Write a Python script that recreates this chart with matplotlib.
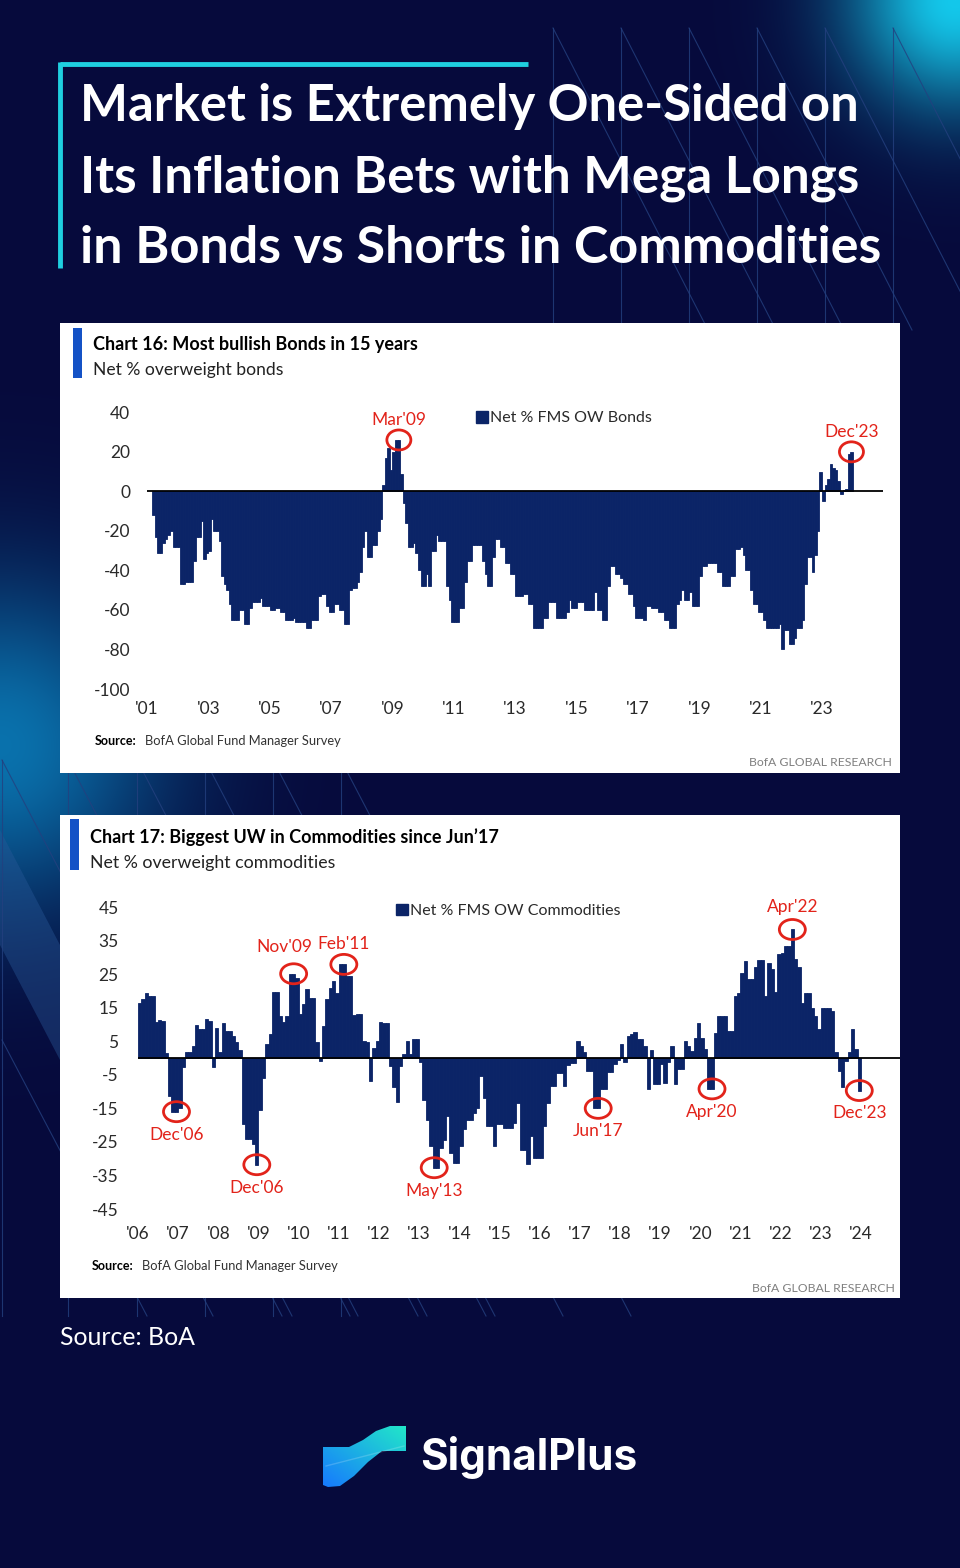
import numpy as np
import pandas as pd
import matplotlib
matplotlib.use("Agg")
import matplotlib.pyplot as plt
from matplotlib.patches import Rectangle, Ellipse, Polygon, Patch

W, H = 960, 1568
NAVY = "#0b2467"
RED = "#e2231a"
CYAN = "#1fcfe0"
CHART_FONT = "Lato"
plt.rcParams["axes.unicode_minus"] = False

# Chart 16: net % FMS overweight bonds, monthly from Mar 2001 to Dec 2023
bond_first = "2001-03"
bond_values = [
    -12, -23, -31, -31, -26, -24, -22, -20, -28, -28,               # 2001 (Mar-Dec)
    -28, -47, -47, -46, -46, -46, -35, -23, -23, -15, -34, -31,     # 2002
    -30, -14, -20, -20, -25, -43, -47, -50, -57, -65, -65, -65,     # 2003
    -60, -60, -67, -67, -59, -56, -56, -56, -54, -58, -58, -58,     # 2004
    -60, -60, -59, -59, -61, -61, -65, -65, -65, -64, -66, -66,     # 2005
    -66, -66, -69, -69, -65, -65, -65, -53, -52, -52, -58, -61,     # 2006
    -61, -57, -57, -60, -60, -67, -67, -50, -49, -49, -46, -41,     # 2007
    -28, -20, -33, -33, -27, -27, -20, -14, 3, 17, 22, 11,          # 2008
    20, 26, 26, 9, -6, -16, -28, -28, -26, -31, -40, -48,           # 2009
    -48, -42, -48, -30, -30, -22, -25, -25, -25, -48, -55, -66,     # 2010
    -66, -66, -59, -59, -46, -35, -35, -27, -27, -27, -27, -35,     # 2011
    -42, -48, -48, -33, -24, -24, -28, -28, -36, -36, -42, -42,     # 2012
    -53, -53, -53, -52, -52, -57, -57, -69, -69, -69, -69, -64,     # 2013
    -64, -56, -56, -56, -64, -64, -64, -64, -61, -55, -59, -59,     # 2014
    -56, -56, -56, -60, -60, -60, -60, -51, -60, -60, -65, -65,     # 2015
    -48, -38, -38, -42, -42, -44, -47, -47, -52, -52, -58, -64,     # 2016
    -64, -64, -65, -58, -58, -59, -59, -59, -61, -61, -65, -65,     # 2017
    -69, -69, -69, -57, -55, -50, -55, -55, -51, -58, -58, -58,     # 2018
    -43, -38, -38, -36, -36, -36, -36, -41, -41, -48, -48, -48,     # 2019
    -43, -43, -29, -29, -28, -32, -40, -40, -50, -57, -57, -61,     # 2020
    -61, -65, -69, -69, -69, -69, -69, -67, -80, -70, -70, -77,     # 2021
    -77, -74, -69, -69, -65, -47, -33, -33, -41, -32, -20, 10,      # 2022
    -5, 3, 6, 14, 12, 11, 5, -1.5, 0.5, 1, 19, 20,                  # 2023
]
bond_year_labels = ["'01", "'03", "'05", "'07", "'09", "'11", "'13",
                    "'15", "'17", "'19", "'21", "'23"]
bond_notes = [("Mar'09", "2009-03"), ("Dec'23", "2023-12")]

# Chart 17: net % FMS overweight commodities, monthly from Jan 2006 to Dec 2023
commodity_first = "2006-01"
commodity_values = [
    16.5, 17.5, 19.3, 18.5, 18.5, 10.6, 11.4, 11, 1.5, -11.2, -16, -16,       # 2006
    -15, -2.8, 1.7, 1.7, 3.7, 9.9, 8.6, 8.6, 11.6, 11.1, -2.8, 8.8,           # 2007
    1.7, 10.4, 8.1, 7.9, 6.6, 4.7, 2.5, -19.6, -24, -24, -25.5, -31.8,        # 2008
    -15.6, -6, 4.2, 7.1, 19.7, 19.7, 12.6, 10.6, 12.6, 25.1, 25.1, 23.8,      # 2009
    13, 16, 20.5, 18, 18, 4.7, -0.8, 9.6, 17.5, 21, 22.8, 19.5,               # 2010
    27.9, 27.9, 24.5, 24.5, 12.8, 13.1, 13.1, 5.1, 4.7, -7, 2.9, 5,           # 2011
    10.8, 10.4, 10.4, -2.3, -8.7, -13.2, -2.3, 1.2, 5, 1.2, 5.6, 5.6,         # 2012
    -1.3, -12.4, -18.4, -26.3, -32.7, -32.7, -26.8, -24.3, -17.4, -28.3, -31.3, -31.3,  # 2013
    -26.3, -21.3, -18.4, -18.4, -16.4, -14.9, -5.5, -11.9, -20.3, -20.3, -26.3, -19.8,  # 2014
    -19.8, -20.8, -20.8, -20.8, -19.3, -13.4, -27.3, -27.3, -31.7, -23.3, -29.8, -29.8,  # 2015
    -29.8, -20.3, -13.4, -8.4, -8.4, -4.5, -4.5, -8.4, -2, -1.5, -1.5, 5,     # 2016
    3.7, 1.7, -3.8, -3.8, -15, -15, -9.2, -9.2, -4.3, -4.3, -1.8, -0.5,       # 2017
    4.2, -1.3, 6.6, 7.3, 7.8, 5.8, 5.8, 3.7, -9.2, 2.5, -7.7, -7.7,           # 2018
    -1.8, -7.4, -1.3, 3.7, -7.7, -3.3, -3.3, 5, 3.7, 2.2, 6.1, 10.4,          # 2019
    6.1, 2.7, -9.2, -9.2, 7.4, 12.4, 12.4, 12.4, 8.1, 8.1, 18.5, 19.5,        # 2020
    25.4, 28.9, 23.5, 23.5, 27.2, 29.2, 29.2, 18.5, 28.4, 26.4, 19.7, 30.9,   # 2021
    31.2, 33.4, 33.4, 38.3, 29.4, 27.2, 16.5, 19.5, 19.5, 15, 12.6, 8.6,      # 2022
    14.8, 14.8, 14.8, 14.1, 1.9, -3.8, -8.7, -0.8, 1.9, 8.6, 2.7, -9.7,       # 2023
]
commodity_year_labels = ["'06", "'07", "'08", "'09", "'10", "'11", "'12", "'13",
                         "'14", "'15", "'16", "'17", "'18", "'19", "'20", "'21",
                         "'22", "'23", "'24"]
# label, month, side of the label (+1 above the circle, -1 below)
commodity_notes = [
    ("Dec'06", "2006-12", -1), ("Dec'06", "2008-12", -1), ("Nov'09", "2009-11", 1),
    ("Feb'11", "2011-02", 1), ("May'13", "2013-05", -1), ("Jun'17", "2017-06", -1),
    ("Apr'20", "2020-04", -1), ("Apr'22", "2022-04", 1), ("Dec'23", "2023-12", -1),
]
# nudges (points) for labels that would collide
note_shift = {"Nov'09": (-7, 3), "Feb'11": (0, -2)}

title_lines = ["Market is Extremely One-Sided on",
               "Its Inflation Bets with Mega Longs",
               "in Bonds vs Shorts in Commodities"]


def px_rect(x0, y0, x1, y1):
    # figure fraction rect from pixel box (y measured from the top)
    return [x0 / W, 1 - y1 / H, (x1 - x0) / W, (y1 - y0) / H]


def month_index(period, base_year):
    p = pd.Period(period, freq="M")
    return (p.year - base_year) * 12 + p.month - 1


def fit_text(ax, renderer, x, y, s, width, **kw):
    # set the font size so the text is `width` pixels wide
    t = ax.text(x, y, s, fontsize=10, **kw)
    bb = t.get_window_extent(renderer=renderer)
    t.set_fontsize(10 * width / bb.width)
    return t


def draw_background(ax):
    yy, xx = np.mgrid[0:H, 0:W]
    base = np.array([6, 10, 60]) / 255
    img = np.ones((H, W, 3)) * base

    def glow(cx, cy, r, color, k):
        d = np.exp(-((xx - cx) ** 2 + (yy - cy) ** 2) / (2 * r ** 2)) * k
        return d[..., None] * (np.array(color) / 255 - base)

    img += glow(955, 0, 75, (20, 200, 235), 1.0)
    img += glow(0, 745, 115, (10, 125, 185), 0.9)
    ax.imshow(np.clip(img, 0, 1), extent=(0, W, H, 0), aspect="auto", zorder=0)

    # light diagonal band on the left
    ax.add_patch(Polygon([(0, 830), (60, 945), (60, 1060), (0, 945)],
                         closed=True, fc="#2a5a9a", alpha=0.4, lw=0, zorder=1))

    lc = dict(color="#24407f", lw=0.8, alpha=0.8, zorder=1)
    for x in [553, 621, 689, 757, 825, 893]:
        ax.plot([x, x], [28, 330], **lc)
        ax.plot([x, x + 155], [28, 330], **lc)
    for x in [2, 68, 137, 205, 273, 341]:
        ax.plot([x, x], [760, 1316], **lc)
        ax.plot([x, x + 290], [760, 1316], **lc)
        ax.plot([x, x + 145], [1040, 1316], **lc)


def draw_logo(ax, renderer):
    shape = Polygon([(323, 1447), (349, 1447), (363, 1440), (376, 1431), (390, 1426),
                     (406, 1426), (406, 1451), (382, 1451), (368, 1462), (354, 1476),
                     (340, 1486), (328, 1487), (323, 1485)],
                    closed=True, transform=ax.transData)
    gx, gy = np.meshgrid(np.linspace(0, 1, 90), np.linspace(0, 1, 70))
    t = np.clip((gx + (1 - gy)) / 2, 0, 1)[..., None]
    blue = np.array([22, 120, 255]) / 255
    teal = np.array([34, 232, 200]) / 255
    grad = blue * (1 - t) + teal * t
    im = ax.imshow(grad, extent=(322, 407, 1488, 1425), aspect="auto", zorder=3)
    im.set_clip_path(shape)
    # faint fold across the ribbon
    ax.plot([326, 404], [1466, 1446], color="white", alpha=0.18, lw=1, zorder=4)
    fit_text(ax, renderer, 420, 1470, "SignalPlus", 217, color="white",
             fontweight="bold", family="Inter", va="baseline", zorder=3)


def bar_chart(fig, rect, first, values, base_year, month_px, ylim, yticks,
              xtick_every, xlabels, legend_label, legend_xy, xpad, ypad):
    ax = fig.add_axes(rect)
    ax.set_facecolor("none")
    dates = pd.period_range(first, periods=len(values), freq="M")
    x = (dates.year - base_year) * 12 + dates.month - 1
    ax.bar(x, values, width=1.0, align="edge", color=NAVY, edgecolor=NAVY,
           linewidth=0.6, zorder=2)
    ax.axhline(0, color="black", lw=1.3, zorder=3)

    left = rect[0] * W
    right = (rect[0] + rect[2]) * W
    ax.set_xlim(0, (right - left) / month_px)
    ax.set_ylim(*ylim)
    ax.set_yticks(yticks)
    ax.set_xticks(np.arange(len(xlabels)) * xtick_every)
    ax.set_xticklabels(xlabels)
    ax.tick_params(length=0, labelsize=12.5, labelcolor="#2a2a2a")
    ax.tick_params(axis="y", pad=ypad)
    ax.tick_params(axis="x", pad=xpad)
    for lab in ax.get_xticklabels() + ax.get_yticklabels():
        lab.set_family(CHART_FONT)
    for s in ax.spines.values():
        s.set_visible(False)

    ax.legend(handles=[Patch(color=NAVY, label=legend_label)], loc="center left",
              bbox_to_anchor=legend_xy, frameon=False, handlelength=0.75,
              handleheight=0.75, handletextpad=0.15, borderaxespad=0, borderpad=0,
              prop={"family": CHART_FONT, "size": 11.5}, labelcolor="#2a2a2a")
    return ax, dict(zip(x, values))


def mark(ax, label, period, base_year, by_month, side, w, h, gap):
    m = month_index(period, base_year)
    y = by_month[m]
    dx, dy = note_shift.get(label, (0, 0))
    ax.add_patch(Ellipse((m + 0.5, y), w, h, fill=False, ec=RED, lw=2,
                         zorder=4, clip_on=False))
    ax.annotate(label, xy=(m + 0.5, y), xytext=(dx, side * gap + dy),
                textcoords="offset points", ha="center", va="center",
                color=RED, fontsize=12.5, family=CHART_FONT, zorder=4)


def main():
    fig = plt.figure(figsize=(W / 100, H / 100), dpi=100)
    renderer = fig.canvas.get_renderer()

    bg = fig.add_axes([0, 0, 1, 1])
    bg.set_xlim(0, W)
    bg.set_ylim(H, 0)
    bg.axis("off")
    draw_background(bg)

    # title with the cyan bracket
    bg.plot([60, 528], [64, 64], color=CYAN, lw=3.5, solid_capstyle="butt", zorder=2)
    bg.plot([60, 60], [62.3, 268], color=CYAN, lw=3.5, solid_capstyle="butt", zorder=2)
    for line, base, width in zip(title_lines, [121, 192, 263], [782, 780, 805]):
        fit_text(bg, renderer, 80, base, line, width, color="white",
                 fontweight="bold", family=CHART_FONT, va="baseline", zorder=3)

    # white panels
    bg.add_patch(Rectangle((60, 323), 840, 450, fc="white", lw=0, zorder=2))
    bg.add_patch(Rectangle((60, 815), 840, 483, fc="white", lw=0, zorder=2))
    bg.add_patch(Rectangle((73, 328), 9, 50, fc="#1452c6", lw=0, zorder=3))
    bg.add_patch(Rectangle((70, 819), 9, 51, fc="#1452c6", lw=0, zorder=3))

    txt = dict(family=CHART_FONT, va="baseline", zorder=3)
    fit_text(bg, renderer, 93, 350, "Chart 16: Most bullish Bonds in 15 years", 324,
             color="black", fontweight="bold", **txt)
    fit_text(bg, renderer, 93, 375, "Net % overweight bonds", 190, color="#222222", **txt)
    fit_text(bg, renderer, 90, 843, "Chart 17: Biggest UW in Commodities since Jun\u201917",
             409, color="black", fontweight="bold", **txt)
    fit_text(bg, renderer, 90, 868, "Net % overweight commodities", 245,
             color="#222222", **txt)

    for x, y in [(95, 745), (92, 1270)]:
        fit_text(bg, renderer, x, y, "Source:", 42, color="black", fontweight="bold", **txt)
        fit_text(bg, renderer, x + 50, y, "BofA Global Fund Manager Survey", 196,
                 color="#333333", **txt)
    for x, y in [(892, 766), (895, 1292)]:
        t = fit_text(bg, renderer, x, y, "BofA GLOBAL RESEARCH", 142, color="#808080", **txt)
        t.set_ha("right")

    fit_text(bg, renderer, 60, 1345, "Source: BoA", 136, color="white",
             family="Lato", va="baseline", zorder=3)
    draw_logo(bg, renderer)

    # Chart 16
    month_px = 2.557
    ax1, bonds_by_month = bar_chart(
        fig, px_rect(147, 412.3, 883, 689), bond_first, bond_values, 2001, month_px,
        (-100, 40), range(-100, 41, 20), 24, bond_year_labels,
        "Net % FMS OW Bonds", (0.447, 0.979), 9, 12)
    for label, period in bond_notes:
        mark(ax1, label, period, 2001, bonds_by_month, 1,
             24 / month_px, 20 / 1.976, 14.5)

    # Chart 17
    month_px = 3.347
    ax2, comm_by_month = bar_chart(
        fig, px_rect(138, 907, 900, 1209), commodity_first, commodity_values, 2006,
        month_px, (-45, 45), range(-45, 46, 10), 12, commodity_year_labels,
        "Net % FMS OW Commodities", (0.3386, 0.987), 12, 14)
    for label, period, side in commodity_notes:
        mark(ax2, label, period, 2006, comm_by_month, side,
             26 / month_px, 20 / 3.356, 16.5)

    fig.savefig("out.png", dpi=100, facecolor="#060a3c")


if __name__ == "__main__":
    main()
